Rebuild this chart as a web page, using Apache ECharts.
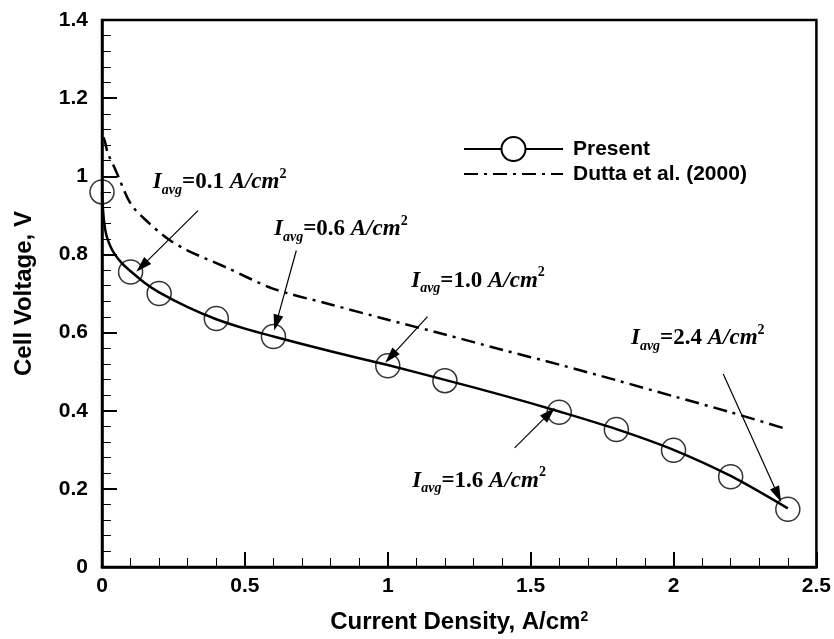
<!DOCTYPE html>
<html>
<head>
<meta charset="utf-8">
<script src="https://cdn.jsdelivr.net/npm/echarts@6/dist/echarts.min.js"></script>
<style>
  html, body { margin: 0; padding: 0; background: #fff; }
  #chart-container { width: 834px; height: 639px; }
</style>
</head>
<body>
<div id="chart-container"></div>
<script>
// present model, curve (dense) and circle markers
var presentCurveX = [0, 0.003, 0.008, 0.015, 0.028, 0.045, 0.07, 0.1, 0.15, 0.2, 0.3, 0.4, 0.5, 0.6, 0.8, 1.0, 1.2, 1.4, 1.6, 1.8, 2.0, 2.2, 2.4];
var presentCurveV = [0.96, 0.92, 0.88, 0.85, 0.823, 0.80, 0.777, 0.757, 0.727, 0.703, 0.665, 0.634, 0.61, 0.59, 0.552, 0.517, 0.479, 0.44, 0.398, 0.353, 0.3, 0.233, 0.15];
var markerX = [0, 0.1, 0.2, 0.4, 0.6, 1.0, 1.2, 1.6, 1.8, 2.0, 2.2, 2.4];
var markerV = [0.96, 0.755, 0.70, 0.636, 0.59, 0.515, 0.477, 0.396, 0.352, 0.299, 0.231, 0.148];

// Dutta et al. (2000)
var duttaX = [0.005, 0.01, 0.02, 0.045, 0.1, 0.15, 0.23, 0.3, 0.44, 0.6, 0.8, 1.0, 1.2, 1.4, 1.6, 1.8, 2.0, 2.2, 2.4];
var duttaV = [1.10, 1.09, 1.06, 1.02, 0.93, 0.89, 0.84, 0.81, 0.765, 0.712, 0.672, 0.633, 0.595, 0.556, 0.518, 0.478, 0.437, 0.396, 0.352];

// annotations: label (left edge, middle) and arrow from -> to, in data units
var noteValues = ['0.1', '0.6', '1.0', '1.6', '2.4'];
var noteTextAt = [[0.178, 0.985], [0.602, 0.865], [1.082, 0.733], [1.086, 0.221], [1.851, 0.585]];
var arrowFrom = [[0.336, 0.912], [0.680, 0.810], [1.139, 0.641], [1.444, 0.305], [2.174, 0.494]];
var arrowTo = [[0.140, 0.770], [0.610, 0.625], [1.010, 0.538], [1.565, 0.393], [2.365, 0.185]];

function pairs(xs, ys) {
    return xs.map(function (x, i) { return [x, ys[i]]; });
}

var dom = document.getElementById('chart-container');
var myChart = echarts.init(dom, null, { renderer: 'canvas' });

var serifRich = {
    i: { fontFamily: 'Liberation Serif', fontStyle: 'italic', fontWeight: 'bold', fontSize: 23, lineHeight: 30, color: '#000' },
    sub: { fontFamily: 'Liberation Serif', fontStyle: 'italic', fontWeight: 'bold', fontSize: 14, lineHeight: 15, verticalAlign: 'bottom', color: '#000' },
    n: { fontFamily: 'Liberation Serif', fontWeight: 'bold', fontSize: 23, lineHeight: 30, color: '#000' },
    sup: { fontFamily: 'Liberation Serif', fontWeight: 'bold', fontSize: 14, lineHeight: 14, verticalAlign: 'top', color: '#000' }
};

var option = {
    animation: false,
    grid: {
        left: 102, right: 16, top: 20, bottom: 69,
        show: true, borderColor: '#000', borderWidth: 2.5
    },
    legend: {
        data: [
            { name: 'Present' },
            { name: 'Dutta et al. (2000)', itemStyle: { opacity: 0 } }
        ],
        orient: 'vertical',
        left: 458, top: 131,
        itemWidth: 99, itemHeight: 30, itemGap: 0,
        textStyle: { fontFamily: 'Liberation Sans', fontWeight: 'bold', fontSize: 21, color: '#000', padding: [0, 0, 0, 5] }
    },
    xAxis: {
        type: 'value', min: 0, max: 2.5, interval: 0.5,
        name: 'Current Density, A/cm{s|2}',
        nameLocation: 'middle', nameGap: 43,
        nameTextStyle: {
            fontFamily: 'Liberation Sans', fontWeight: 'bold', fontSize: 24, color: '#000',
            rich: { s: { fontFamily: 'Liberation Sans', fontWeight: 'bold', fontSize: 14, verticalAlign: 'top', lineHeight: 14, color: '#000' } }
        },
        axisLine: { show: true, lineStyle: { color: '#000', width: 2.5 } },
        axisTick: { inside: true, length: 15, lineStyle: { color: '#000', width: 2 } },
        minorTick: { show: true, splitNumber: 5, length: 9, lineStyle: { color: '#000', width: 1 } },
        axisLabel: { margin: 9, fontFamily: 'Liberation Sans', fontWeight: 'bold', fontSize: 21, color: '#000' },
        splitLine: { show: false }
    },
    yAxis: {
        type: 'value', min: 0, max: 1.4, interval: 0.2,
        name: 'Cell Voltage, V',
        nameLocation: 'middle', nameGap: 66,
        nameTextStyle: { fontFamily: 'Liberation Sans', fontWeight: 'bold', fontSize: 24, color: '#000' },
        axisLine: { show: true, lineStyle: { color: '#000', width: 2.5 } },
        axisTick: { inside: true, length: 15, lineStyle: { color: '#000', width: 2 } },
        minorTick: { show: true, splitNumber: 5, length: 9, lineStyle: { color: '#000', width: 1 } },
        axisLabel: { margin: 14, fontFamily: 'Liberation Sans', fontWeight: 'bold', fontSize: 21, color: '#000' },
        splitLine: { show: false }
    },
    series: [
        {
            name: 'Present',
            type: 'line',
            data: pairs(presentCurveX, presentCurveV),
            smooth: 0.3,
            symbol: 'emptyCircle',
            showSymbol: false,
            color: '#000',
            lineStyle: { color: '#000', width: 2.5 },
            silent: true
        },
        {
            name: 'Present markers',
            type: 'scatter',
            data: pairs(markerX, markerV),
            symbol: 'circle',
            symbolSize: 24,
            itemStyle: { color: 'rgba(0,0,0,0)', borderColor: '#000', borderWidth: 1.5 },
            silent: true,
            z: 3
        },
        {
            name: 'Dutta et al. (2000)',
            type: 'line',
            data: pairs(duttaX, duttaV),
            smooth: 0.3,
            symbol: 'none',
            color: '#000',
            lineStyle: { color: '#000', width: 2.5, type: [14, 6, 3, 6] },
            silent: true,
            markLine: {
                silent: true,
                symbol: ['none', 'triangle'],
                symbolSize: [10, 16],
                label: { show: false },
                lineStyle: { color: '#000', width: 1.2, type: 'solid' },
                data: arrowFrom.map(function (p, i) {
                    return [{ coord: p }, { coord: arrowTo[i] }];
                })
            },
            markPoint: {
                silent: true,
                symbol: 'circle',
                symbolSize: 0,
                label: { show: true, position: 'right', distance: 0, rich: serifRich },
                data: noteTextAt.map(function (p, i) {
                    return {
                        coord: p,
                        label: { formatter: '{i|I}{sub|avg}{n|=' + noteValues[i] + ' }{i|A/cm}{sup|2}' }
                    };
                })
            }
        }
    ]
};

if (option && typeof option === 'object') {
    myChart.setOption(option);
}

window.addEventListener('resize', myChart.resize);
</script>
</body>
</html>
